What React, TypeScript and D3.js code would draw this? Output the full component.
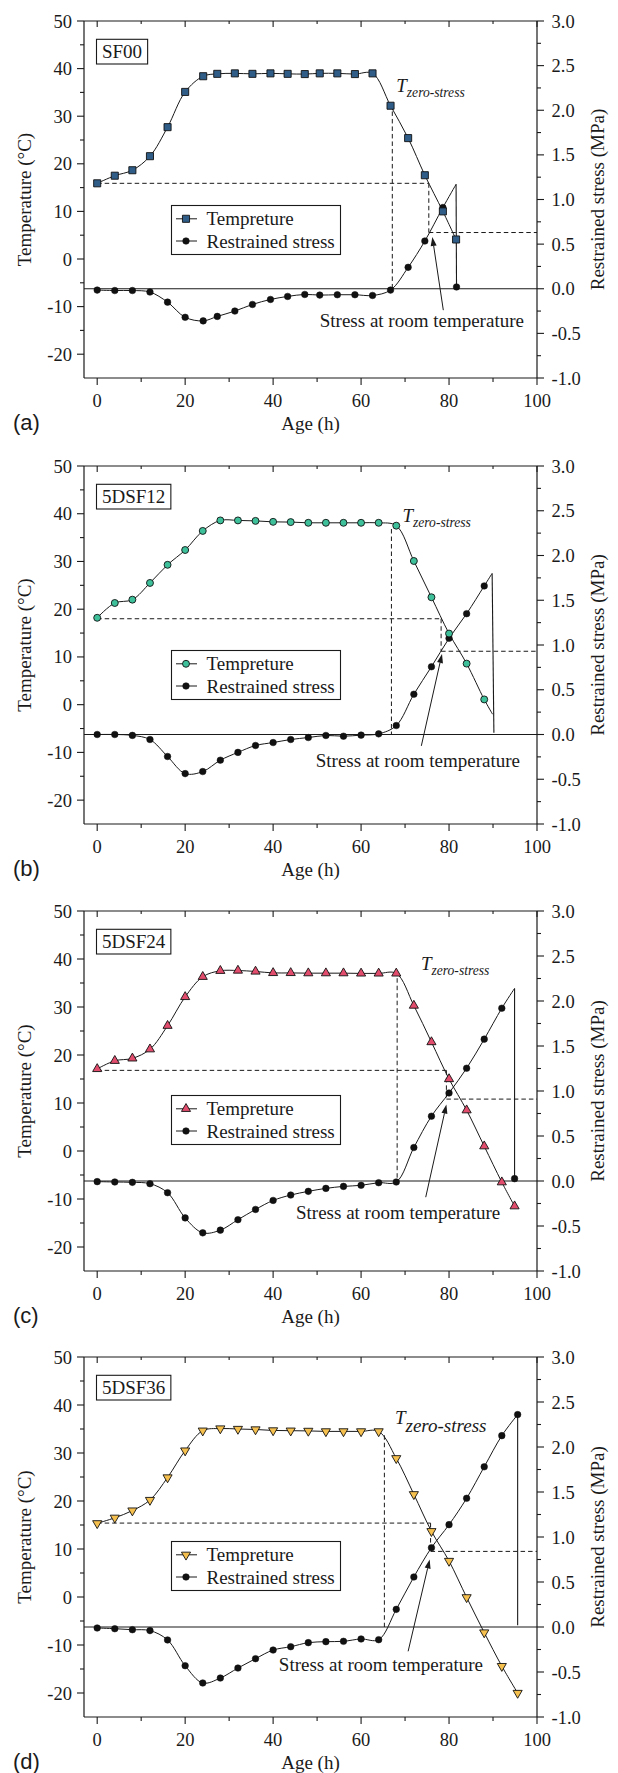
import React from 'react';
import * as d3 from 'd3';

const W = 618;
const H = 1773;

// ---- shared axes ----
const ageTicks = [0, 20, 40, 60, 80, 100];
const ageMinor = [10, 30, 50, 70, 90];
const tempTicks = [-20, -10, 0, 10, 20, 30, 40, 50];
const tempMinor = [-15, -5, 5, 15, 25, 35, 45];
const stressTicks = [-1.0, -0.5, 0.0, 0.5, 1.0, 1.5, 2.0, 2.5, 3.0];
const stressMinor = [-0.75, -0.25, 0.25, 0.75, 1.25, 1.75, 2.25, 2.75];

// ---- (a) SF00 ----
const aTempAge = [0, 4, 8, 12, 16, 20, 24.1, 27.3, 31.3, 35.3, 39.4, 43.3, 47.2, 50.6, 54.6, 58.6, 62.6, 66.7, 70.7, 74.5, 78.6, 81.6];
const aTempVal = [15.9, 17.5, 18.65, 21.6, 27.7, 35.1, 38.4, 38.9, 39.0, 38.9, 39.0, 38.9, 38.85, 39.0, 39.0, 38.85, 39.0, 32.2, 25.4, 17.6, 10.0, 4.1];
const aStressAge = [0, 4, 8, 12, 16, 20, 24.1, 27.3, 31.3, 35.3, 39.4, 43.3, 47.2, 50.6, 54.6, 58.6, 62.6, 66.7, 70.7, 74.5, 78.6];
const aStressVal = [-0.015, -0.02, -0.02, -0.037, -0.15, -0.32, -0.36, -0.31, -0.25, -0.176, -0.12, -0.086, -0.064, -0.071, -0.067, -0.067, -0.075, -0.015, 0.24, 0.535, 0.91];
const aFailAge = [81.6, 81.7];
const aFailVal = [1.17, 0.02];
const aFailMarked = [false, true];

// ---- (b) 5DSF12 ----
const bTempAge = [0, 4, 8, 12, 16, 20, 24, 28, 32, 36, 40, 44, 48, 52, 56, 60, 64, 68, 72, 76, 80, 84, 88];
const bTempVal = [18.2, 21.3, 22.0, 25.5, 29.3, 32.4, 36.4, 38.6, 38.6, 38.5, 38.3, 38.25, 38.1, 38.1, 38.1, 38.1, 38.1, 37.5, 30.1, 22.5, 14.9, 8.6, 1.1];
const bTempTailAge = [89.9];
const bTempTailVal = [-2.0];
const bStressAge = [0, 4, 8, 12, 16, 20, 24, 28, 32, 36, 40, 44, 48, 52, 56, 60, 64, 68, 72, 76, 80, 84, 88];
const bStressVal = [0.0, 0.0, -0.01, -0.056, -0.246, -0.437, -0.414, -0.287, -0.2, -0.123, -0.09, -0.056, -0.034, -0.011, -0.019, -0.007, 0.007, 0.10, 0.45, 0.757, 1.075, 1.35, 1.66];
const bFailAge = [89.8, 90.2];
const bFailVal = [1.80, 0.02];
const bFailMarked = [false, false];

// ---- (c) 5DSF24 ----
const cTempAge = [0, 4, 8, 12, 16, 20, 24, 28, 32, 36, 40, 44, 48, 52, 56, 60, 64, 68, 72, 76, 80, 84, 88, 92, 94.9];
const cTempVal = [17.1, 18.8, 19.3, 21.2, 26.1, 32.1, 36.3, 37.55, 37.6, 37.4, 37.1, 37.1, 37.05, 37.05, 37.05, 37.0, 37.0, 37.0, 30.3, 22.7, 15.0, 8.5, 1.0, -6.5, -11.5];
const cStressAge = [0, 4, 8, 12, 16, 20, 24, 28, 32, 36, 40, 44, 48, 52, 56, 60, 64, 68, 72, 76, 80, 84, 88, 92];
const cStressVal = [-0.007, -0.011, -0.015, -0.03, -0.13, -0.41, -0.576, -0.546, -0.43, -0.316, -0.216, -0.156, -0.115, -0.082, -0.06, -0.048, -0.019, -0.011, 0.372, 0.72, 0.978, 1.253, 1.576, 1.92];
const cFailAge = [94.9, 94.9];
const cFailVal = [2.14, 0.026];
const cFailMarked = [false, true];

// ---- (d) 5DSF36 ----
const dTempAge = [0, 4, 8, 12, 16, 20, 24, 28, 32, 36, 40, 44, 48, 52, 56, 60, 64, 68, 72, 76, 80, 84, 88, 92, 95.6];
const dTempVal = [15.35, 16.5, 18.0, 20.2, 24.9, 30.5, 34.65, 35.1, 35.0, 34.9, 34.7, 34.65, 34.6, 34.5, 34.5, 34.5, 34.5, 28.9, 21.4, 13.7, 7.5, -0.07, -7.4, -14.4, -20.0];
const dStressAge = [0, 4, 8, 12, 16, 20, 24, 28, 32, 36, 40, 44, 48, 52, 56, 60, 64, 68, 72, 76, 80, 84, 88, 92];
const dStressVal = [-0.011, -0.019, -0.03, -0.04, -0.144, -0.43, -0.622, -0.567, -0.456, -0.352, -0.256, -0.219, -0.174, -0.163, -0.159, -0.133, -0.141, 0.196, 0.556, 0.881, 1.137, 1.43, 1.78, 2.126];
const dFailAge = [95.6, 95.6];
const dFailVal = [2.36, 0.02];
const dFailMarked = [true, false];

// ---- annotation readings (zero-stress age, room temperature, stress at room temperature) ----
const zeroAge = [67.1, 66.9, 68.2, 65.3];
const zeroTemp = [31.0, 36.8, 36.0, 33.7];
const roomTemp = [15.9, 18.0, 16.8, 15.4];
const roomAge = [75.4, 78.2, 79.4, 75.8];
const roomStress = [0.63, 0.93, 0.91, 0.84];

const panelNames = ['SF00', '5DSF12', '5DSF24', '5DSF36'];
const panelLetters = ['(a)', '(b)', '(c)', '(d)'];
const legendLabels = ['Tempreture', 'Restrained stress'];

// layout / style (not data)
const X0 = 84;
const X1 = 537;
const panelTop = [21, 466, 911, 1357];
const panelH = [357, 358, 360, 360];
const fills = ['#2f5d88', '#3ec09b', '#e24c6d', '#f6c04f'];
const symbols = ['square', 'circle', 'up', 'down'];
const serif = "'Liberation Serif', 'Times New Roman', serif";
const sans = "'Liberation Sans', Arial, sans-serif";
const ink = '#1a1a1a';

// annotation positions in data units
const tLabel = [
  { age: 68.0, temp: 35.1, subSize: 13.6, dy: 5 },
  { age: 69.4, temp: 38.3, subSize: 13.6, dy: 5 },
  { age: 73.6, temp: 37.8, subSize: 13.6, dy: 5.5 },
  { age: 67.7, temp: 36.0, subSize: 19, dy: 7.5 },
];
const roomLabel = [
  { age: 50.6, stress: -0.434 },
  { age: 49.7, stress: -0.358 },
  { age: 45.2, stress: -0.42 },
  { age: 41.3, stress: -0.493 },
];
const arrows = [
  { fromAge: 78.7, fromS: -0.24, toAge: 76.2, toS: 0.58 },
  { fromAge: 73.7, fromS: -0.127, toAge: 78.4, toS: 0.9 },
  { fromAge: 74.7, fromS: -0.18, toAge: 79.4, toS: 0.85 },
  { fromAge: 70.7, fromS: -0.27, toAge: 75.6, toS: 0.75 },
];

let measureCtx: CanvasRenderingContext2D | null = null;
function textWidth(t: string, font: string): number {
  if (!measureCtx) {
    const c = document.createElement('canvas');
    measureCtx = c.getContext('2d');
  }
  if (!measureCtx) return t.length * 10;
  measureCtx.font = font;
  return measureCtx.measureText(t).width;
}

function symbolPath(kind: string): string {
  if (kind === 'square') return d3.symbol().type(d3.symbolSquare).size(50)() as string;
  if (kind === 'circle') return d3.symbol().type(d3.symbolCircle).size(38)() as string;
  return d3.symbol().type(d3.symbolTriangle).size(36)() as string;
}

function Marker({ x, y, kind, fill }: { x: number; y: number; kind: string; fill: string }) {
  const rot = kind === 'down' ? ' rotate(180)' : '';
  return (
    <path
      d={symbolPath(kind)}
      transform={`translate(${x},${y})${rot}`}
      fill={fill}
      stroke="#111"
      strokeWidth={0.9}
    />
  );
}

function Dot({ x, y }: { x: number; y: number }) {
  return <circle cx={x} cy={y} r={3.3} fill="#111" stroke="#111" strokeWidth={0.5} />;
}

type PanelData = {
  tempAge: number[];
  tempVal: number[];
  tailAge: number[];
  tailVal: number[];
  stressAge: number[];
  stressVal: number[];
  failAge: number[];
  failVal: number[];
  failMarked: boolean[];
};

const panelData: PanelData[] = [
  { tempAge: aTempAge, tempVal: aTempVal, tailAge: [], tailVal: [], stressAge: aStressAge, stressVal: aStressVal, failAge: aFailAge, failVal: aFailVal, failMarked: aFailMarked },
  { tempAge: bTempAge, tempVal: bTempVal, tailAge: bTempTailAge, tailVal: bTempTailVal, stressAge: bStressAge, stressVal: bStressVal, failAge: bFailAge, failVal: bFailVal, failMarked: bFailMarked },
  { tempAge: cTempAge, tempVal: cTempVal, tailAge: [], tailVal: [], stressAge: cStressAge, stressVal: cStressVal, failAge: cFailAge, failVal: cFailVal, failMarked: cFailMarked },
  { tempAge: dTempAge, tempVal: dTempVal, tailAge: [], tailVal: [], stressAge: dStressAge, stressVal: dStressVal, failAge: dFailAge, failVal: dFailVal, failMarked: dFailMarked },
];

function Panel({ i }: { i: number }) {
  const top = panelTop[i];
  const bottom = top + panelH[i];
  const pd = panelData[i];
  const x = d3.scaleLinear().domain([-3, 100]).range([X0, X1]);
  const yT = d3.scaleLinear().domain([-25, 50]).range([bottom, top]);
  const yS = d3.scaleLinear().domain([-1, 3]).range([bottom, top]);
  const smooth = d3.line<[number, number]>().curve(d3.curveCatmullRom.alpha(0.5));
  const straight = d3.line<[number, number]>();

  const tempPts: [number, number][] = pd.tempAge.map((a, k) => [x(a), yT(pd.tempVal[k])]);
  const tailPts: [number, number][] = pd.tailAge.map((a, k) => [x(a), yT(pd.tailVal[k])]);
  const stressPts: [number, number][] = pd.stressAge.map((a, k) => [x(a), yS(pd.stressVal[k])]);
  const peak: [number, number] = [x(pd.failAge[0]), yS(pd.failVal[0])];
  const end: [number, number] = [x(pd.failAge[1]), yS(pd.failVal[1])];

  const fill = fills[i];
  const kind = symbols[i];
  const tl = tLabel[i];
  const rl = roomLabel[i];
  const ar = arrows[i];

  // arrow head
  const ax1 = x(ar.fromAge), ay1 = yS(ar.fromS), ax2 = x(ar.toAge), ay2 = yS(ar.toS);
  const ang = Math.atan2(ay2 - ay1, ax2 - ax1);
  const hl = 9, hw = 3;
  const bx = ax2 - hl * Math.cos(ang), by = ay2 - hl * Math.sin(ang);
  const head = `M${ax2},${ay2}L${bx + hw * Math.sin(ang)},${by - hw * Math.cos(ang)}L${bx - hw * Math.sin(ang)},${by + hw * Math.cos(ang)}Z`;

  const name = panelNames[i];
  const nameFont = `19px ${serif}`;
  const nameW = textWidth(name, nameFont) + 11;

  const legX = 171.5, legY = top + 184.5, legW = 169, legH = 49;
  const dash = '4.5,3';

  return (
    <g>
      {/* frame */}
      <line x1={X0} x2={X1} y1={top} y2={top} stroke={ink} strokeWidth={1.2} />
      <line x1={X0} x2={X1} y1={bottom} y2={bottom} stroke={ink} strokeWidth={1.2} />
      <line x1={X0} x2={X0} y1={top} y2={bottom} stroke={ink} strokeWidth={1.2} />
      <line x1={X1} x2={X1} y1={top} y2={bottom} stroke={ink} strokeWidth={1.2} />

      {/* bottom & top ticks */}
      {ageTicks.map((t) => (
        <g key={'at' + t}>
          <line x1={x(t)} x2={x(t)} y1={bottom} y2={bottom + 7} stroke={ink} strokeWidth={1.1} />
          <line x1={x(t)} x2={x(t)} y1={top} y2={top + 6} stroke={ink} strokeWidth={1.1} />
          <text x={x(t)} y={bottom + 29} fontFamily={serif} fontSize={18.5} textAnchor="middle" fill={ink}>{t}</text>
        </g>
      ))}
      {ageMinor.map((t) => (
        <g key={'am' + t}>
          <line x1={x(t)} x2={x(t)} y1={bottom} y2={bottom + 4} stroke={ink} strokeWidth={1.1} />
          <line x1={x(t)} x2={x(t)} y1={top} y2={top + 3} stroke={ink} strokeWidth={1.1} />
        </g>
      ))}
      {/* left ticks */}
      {tempTicks.map((t) => (
        <g key={'tt' + t}>
          <line x1={X0 - 7} x2={X0} y1={yT(t)} y2={yT(t)} stroke={ink} strokeWidth={1.1} />
          <text x={X0 - 12} y={yT(t) + 6.5} fontFamily={serif} fontSize={18.5} textAnchor="end" fill={ink}>{t}</text>
        </g>
      ))}
      {tempMinor.map((t) => (
        <line key={'tm' + t} x1={X0 - 4} x2={X0} y1={yT(t)} y2={yT(t)} stroke={ink} strokeWidth={1.1} />
      ))}
      {/* right ticks */}
      {stressTicks.map((t) => (
        <g key={'st' + t}>
          <line x1={X1} x2={X1 + 7} y1={yS(t)} y2={yS(t)} stroke={ink} strokeWidth={1.1} />
          <text x={X1 + 14.5} y={yS(t) + 6.5} fontFamily={serif} fontSize={18.5} textAnchor="start" fill={ink}>{t.toFixed(1)}</text>
        </g>
      ))}
      {stressMinor.map((t) => (
        <line key={'sm' + t} x1={X1} x2={X1 + 4} y1={yS(t)} y2={yS(t)} stroke={ink} strokeWidth={1.1} />
      ))}

      {/* axis titles */}
      <text x={x(48.5) + 0} y={bottom + 52} fontFamily={serif} fontSize={19} textAnchor="middle" fill={ink}>Age (h)</text>
      <text transform={`translate(30.5,${(top + bottom) / 2}) rotate(-90)`} fontFamily={serif} fontSize={19} textAnchor="middle" fill={ink}>Temperature (°C)</text>
      <text transform={`translate(603.5,${(top + bottom) / 2}) rotate(-90)`} fontFamily={serif} fontSize={19} textAnchor="middle" fill={ink}>Restrained stress (MPa)</text>
      <text x={13} y={bottom + 52} fontFamily={sans} fontSize={22} fill={ink}>{panelLetters[i]}</text>

      {/* zero stress line */}
      <line x1={X0} x2={X1} y1={yS(0)} y2={yS(0)} stroke={ink} strokeWidth={1.2} />

      {/* dashed reading lines */}
      <line x1={x(zeroAge[i])} x2={x(zeroAge[i])} y1={yT(zeroTemp[i])} y2={yS(0)} stroke={ink} strokeWidth={1} strokeDasharray={dash} />
      <line x1={x(0)} x2={x(roomAge[i])} y1={yT(roomTemp[i])} y2={yT(roomTemp[i])} stroke={ink} strokeWidth={1} strokeDasharray={dash} />
      <line x1={x(roomAge[i])} x2={x(roomAge[i])} y1={yT(roomTemp[i])} y2={yS(roomStress[i])} stroke={ink} strokeWidth={1} strokeDasharray={dash} />
      <line x1={x(roomAge[i])} x2={X1} y1={yS(roomStress[i])} y2={yS(roomStress[i])} stroke={ink} strokeWidth={1} strokeDasharray={dash} />

      {/* temperature curve */}
      <path d={smooth([...tempPts, ...tailPts]) as string} fill="none" stroke={ink} strokeWidth={1} />
      {/* stress curve */}
      <path d={smooth([...stressPts, peak]) as string} fill="none" stroke={ink} strokeWidth={1} />
      <path d={straight([peak, end]) as string} fill="none" stroke={ink} strokeWidth={1.1} />

      {/* markers */}
      {stressPts.map((p, k) => <Dot key={'sd' + k} x={p[0]} y={p[1]} />)}
      {pd.failMarked[0] && <Dot x={peak[0]} y={peak[1]} />}
      {pd.failMarked[1] && <Dot x={end[0]} y={end[1]} />}
      {tempPts.map((p, k) => <Marker key={'tp' + k} x={p[0]} y={p[1]} kind={kind} fill={fill} />)}

      {/* arrow */}
      <line x1={ax1} y1={ay1} x2={bx} y2={by} stroke={ink} strokeWidth={1} />
      <path d={head} fill={ink} />

      {/* annotations */}
      <text x={x(tl.age)} y={yT(tl.temp)} fontFamily={serif} fontStyle="italic" fontSize={19} fill={ink}>
        T<tspan dy={tl.dy} fontSize={tl.subSize}>zero-stress</tspan>
      </text>
      <text x={x(rl.age)} y={yS(rl.stress)} fontFamily={serif} fontSize={19} fill={ink}>Stress at room temperature</text>

      {/* name box */}
      <rect x={96.5} y={top + 18.3} width={nameW} height={24.7} fill="#fff" stroke={ink} strokeWidth={1.1} />
      <text x={96.5 + nameW / 2} y={top + 37} fontFamily={serif} fontSize={19} textAnchor="middle" fill={ink}>{name}</text>

      {/* legend */}
      <rect x={legX} y={legY} width={legW} height={legH} fill="#fff" stroke={ink} strokeWidth={1.1} />
      <line x1={legX + 4.5} x2={legX + 25.5} y1={legY + 13.3} y2={legY + 13.3} stroke={ink} strokeWidth={1} />
      <Marker x={legX + 14.5} y={legY + 13.3} kind={kind} fill={fill} />
      <text x={legX + 35} y={legY + 19.8} fontFamily={serif} fontSize={19} fill={ink}>{legendLabels[0]}</text>
      <line x1={legX + 4.5} x2={legX + 25.5} y1={legY + 35.5} y2={legY + 35.5} stroke={ink} strokeWidth={1} />
      <Dot x={legX + 14.5} y={legY + 35.5} />
      <text x={legX + 35} y={legY + 42} fontFamily={serif} fontSize={19} fill={ink}>{legendLabels[1]}</text>
    </g>
  );
}

export default function App() {
  return (
    <svg width={W} height={H} viewBox={`0 0 ${W} ${H}`} style={{ display: 'block', position: 'absolute', left: 0, top: 0, background: '#fff' }}>
      <rect x={0} y={0} width={W} height={H} fill="#fff" />
      {[0, 1, 2, 3].map((i) => <Panel key={i} i={i} />)}
    </svg>
  );
}
